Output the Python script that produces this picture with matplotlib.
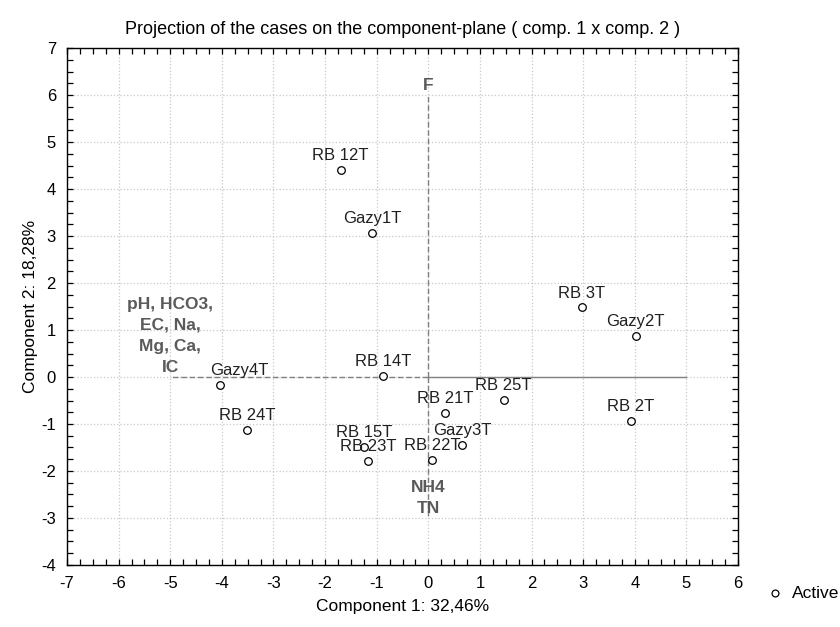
import matplotlib.pyplot as plt
from matplotlib.ticker import MultipleLocator
from matplotlib import font_manager

# font: narrow Arial-like if present
names = {f.name for f in font_manager.fontManager.ttflist}
if 'Liberation Sans Narrow' in names:
    plt.rcParams['font.family'] = ['Liberation Sans Narrow', 'Liberation Sans', 'DejaVu Sans']
else:
    plt.rcParams['font.family'] = ['Liberation Sans', 'DejaVu Sans']
plt.rcParams['axes.unicode_minus'] = False

# cases (component 1, component 2)
cases = ['RB 12T', 'Gazy1T', 'RB 3T', 'Gazy2T', 'Gazy4T', 'RB 14T', 'RB 25T',
         'RB 21T', 'RB 2T', 'RB 24T', 'RB 15T', 'RB 23T', 'RB 22T', 'Gazy3T']
comp1 = [-1.70, -1.09, 2.97, 4.02, -4.03, -0.87, 1.46,
         0.33, 3.92, -3.51, -1.24, -1.17, 0.08, 0.66]
comp2 = [4.40, 3.07, 1.48, 0.88, -0.17, 0.02, -0.48,
         -0.77, -0.93, -1.12, -1.49, -1.79, -1.77, -1.44]

# supplementary variables (end points of the drawn vectors)
var_labels = ['F', 'pH, HCO3,\nEC, Na,\nMg, Ca,\nIC', 'NH4\nTN']
var_x = [0, -5, 0]
var_y = [6, 0, -3]

fig = plt.figure(figsize=(8.4, 6.27), dpi=100)
ax = fig.add_axes([0.0798, 0.0989, 0.7988, 0.8245])

# vectors
for vx, vy in zip(var_x, var_y):
    ax.plot([0, vx], [0, vy], color='#808080', lw=1.0, ls=(0, (4, 2)), zorder=2)
ax.plot([0, 5], [0, 0], color='#808080', lw=1.0, zorder=2)

for lab, vx, vy in zip(var_labels, var_x, var_y):
    ax.text(vx, vy + 0.05, lab, ha='center', va='bottom', fontsize=12.5,
            fontweight='bold', color='#5a5a5a', linespacing=1.5,
            family=['Liberation Sans', 'DejaVu Sans'], zorder=3)

pts = ax.scatter(comp1, comp2, s=30, facecolors='white', edgecolors='black',
                 linewidths=0.9, zorder=4, label='Active')
for name, x, y in zip(cases, comp1, comp2):
    dx = 14 if name == 'Gazy4T' else 0
    ax.annotate(name, (x, y), xytext=(dx, 5), textcoords='offset points',
                ha='center', va='bottom', fontsize=12, color='#202020', zorder=5)

ax.set_xlim(-7, 6)
ax.set_ylim(-4, 7)
ax.xaxis.set_major_locator(MultipleLocator(1))
ax.yaxis.set_major_locator(MultipleLocator(1))
ax.xaxis.set_minor_locator(MultipleLocator(0.25))
ax.yaxis.set_minor_locator(MultipleLocator(0.25))
ax.tick_params(which='both', direction='in', top=True, right=True,
               length=4, width=0.9, labelsize=12, pad=8)
ax.grid(True, which='major', color='#c8c8c8', ls=':', lw=0.9)
for sp in ax.spines.values():
    sp.set_linewidth(1.0)

ax.set_title('Projection of the cases on the component-plane ( comp. 1 x comp. 2 )',
             fontsize=13, pad=10, family=['Liberation Sans', 'DejaVu Sans'])
ax.set_xlabel('Component 1: 32,46%', fontsize=12.5, labelpad=6)
ax.set_ylabel('Component 2: 18,28%', fontsize=12.5, labelpad=2)

fig.legend(handles=[pts], labels=['Active'], loc='center left',
           bbox_to_anchor=(0.914, 0.054), frameon=False, fontsize=12.5,
           handlelength=0.8, handletextpad=0.6, borderpad=0, borderaxespad=0,
           markerscale=0.9)

fig.savefig('out.png', dpi=100)
